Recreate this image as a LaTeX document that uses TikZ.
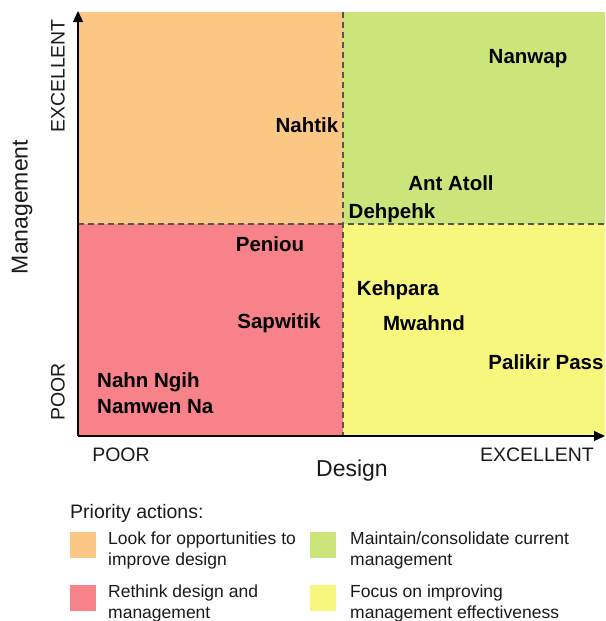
\documentclass[tikz,border=0pt]{standalone}
\usepackage{fontspec}
\setmainfont{Liberation Sans}
\usetikzlibrary{arrows.meta}
\definecolor{qorange}{HTML}{FBC784}
\definecolor{qgreen}{HTML}{CCE57B}
\definecolor{qred}{HTML}{F7828A}
\definecolor{qyellow}{HTML}{F7F77D}
\definecolor{dashgray}{HTML}{555555}
\definecolor{txt}{HTML}{1A1A1A}
\tikzset{
  pt/.style={font=\fontsize{20.5}{22}\selectfont\bfseries, text=black, inner sep=0pt},
  axlab/.style={font=\fontsize{19.5}{21}\selectfont, text=txt, inner sep=0pt},
  axtitle/.style={font=\fontsize{23}{25}\selectfont, text=txt, inner sep=0pt},
  legtxt/.style={font=\fontsize{17.5}{21}\selectfont, text=txt, inner sep=0pt, anchor=west, align=left},
  swatch/.style={minimum width=26pt, minimum height=26pt, inner sep=0pt, draw=none},
  divider/.style={dashgray, line width=1.5pt, dash pattern=on 6pt off 4pt},
  axis/.style={black, line width=1.2pt, -{Triangle[length=11pt,width=10pt]}}
}
\begin{document}
\begin{tikzpicture}[x=1pt,y=-1pt]
\useasboundingbox (0,0) rectangle (605,621);
% quadrants
\fill[qorange] (78,12) rectangle (343,224);
\fill[qgreen] (343,12) rectangle (605,224);
\fill[qred] (78,224) rectangle (343,436);
\fill[qyellow] (343,224) rectangle (605,436);
\draw[divider] (78,224) -- (605,224);
\draw[divider] (343,12) -- (343,436);
% axes
\coordinate (o) at (78,436);
\coordinate (ytop) at (78,11);
\coordinate (xend) at (605,436);
\draw[axis] (o) -- (ytop);
\draw[axis] (o) -- (xend);
% axis labels
\node[axlab, rotate=90] (yexc) at (58,76) {EXCELLENT};
\node[axlab, rotate=90] (ypoor) at (58,392) {POOR};
\node[axtitle, rotate=90] (ytitle) at (22,207) {Management};
\node[axlab] (xpoor) at (121,455) {POOR};
\node[axlab] (xexc) at (537,455) {EXCELLENT};
\node[axtitle] (xtitle) at (352,471) {Design};
% points
\node[pt] (nanwap) at (528,59) {Nanwap};
\node[pt] (nahtik) at (307,125) {Nahtik};
\node[pt] (antatoll) at (451,183) {Ant Atoll};
\node[pt] (dehpehk) at (392,213) {Dehpehk};
\node[pt] (peniou) at (270,244) {Peniou};
\node[pt] (kehpara) at (398,290) {Kehpara};
\node[pt] (sapwitik) at (279,323) {Sapwitik};
\node[pt] (mwahnd) at (424,323) {Mwahnd};
\node[pt] (palikir) at (546,362) {Palikir Pass};
\node[pt, anchor=west] (nahn) at (97,382) {Nahn Ngih};
\node[pt, anchor=west] (namwen) at (97,407) {Namwen Na};
% legend
\node[legtxt, font=\fontsize{19.5}{21}\selectfont] (prio) at (70,513) {Priority actions:};
\node[swatch, fill=qorange] (s1) at (83,545) {};
\node[swatch, fill=qred] (s2) at (83,598) {};
\node[swatch, fill=qgreen] (s3) at (323,545) {};
\node[swatch, fill=qyellow] (s4) at (323,598) {};
\node[legtxt] (l1) at (108,550) {Look for opportunities to\\improve design};
\node[legtxt] (l2) at (108,603) {Rethink design and\\management};
\node[legtxt] (l3) at (350,550) {Maintain/consolidate current\\management};
\node[legtxt] (l4) at (350,603) {Focus on improving\\management effectiveness};
\end{tikzpicture}
\end{document}
